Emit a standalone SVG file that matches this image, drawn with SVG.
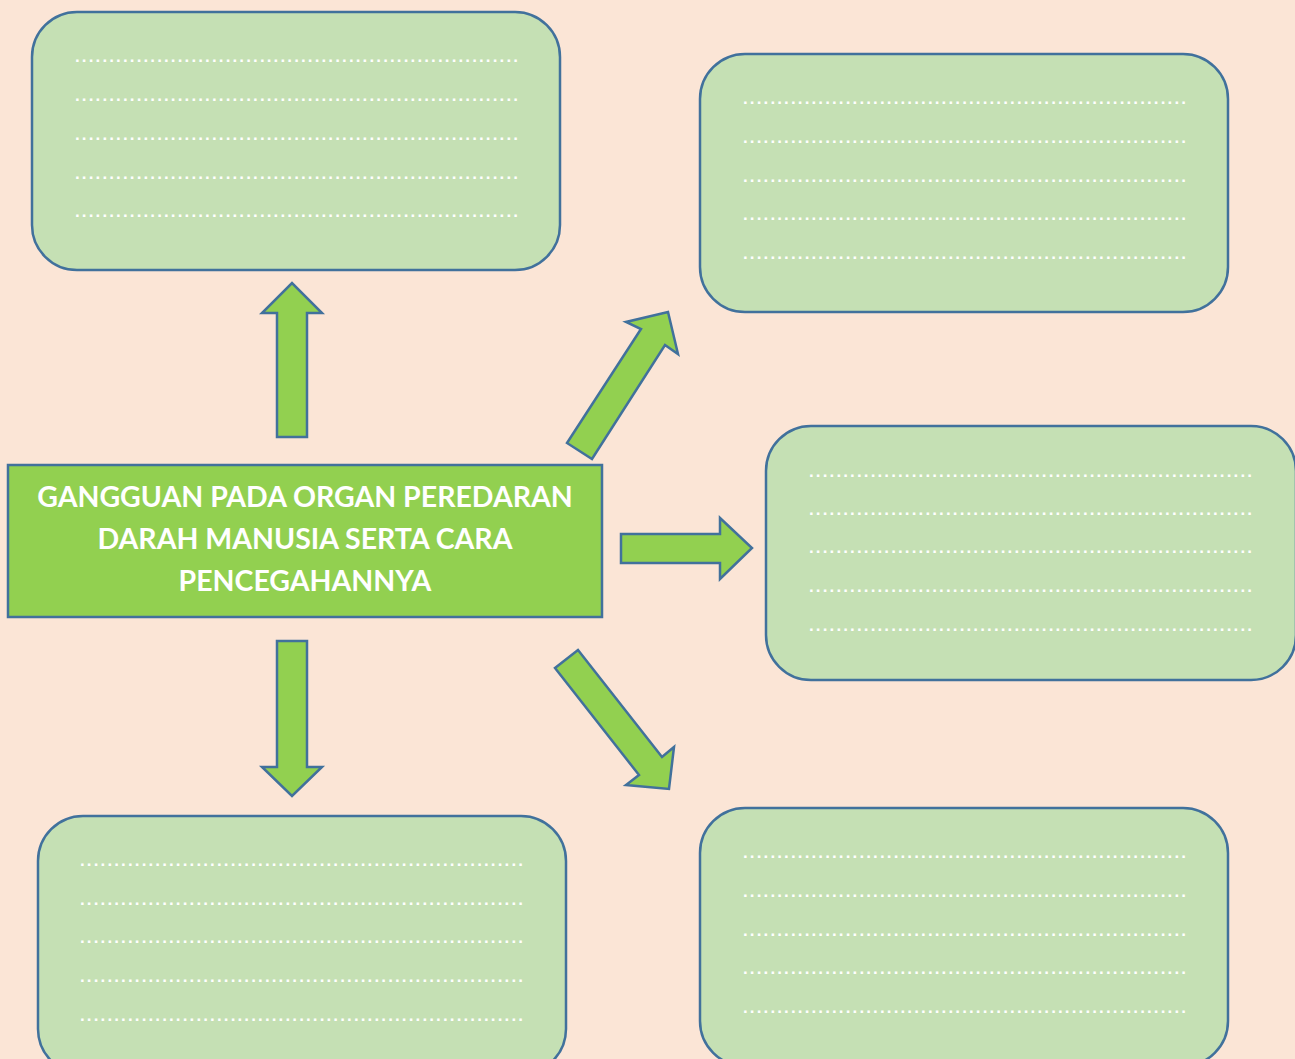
<svg xmlns="http://www.w3.org/2000/svg" width="1295" height="1059" viewBox="0 0 1295 1059">
<style>
.box{fill:#c5e0b4;stroke:#41719c;stroke-width:2.5}
.arr{fill:#92d050;stroke:#41719c;stroke-width:2.5;stroke-linejoin:miter}
.dots{fill:#ffffff;font-family:"Liberation Sans",Arial,sans-serif;font-size:17px;font-weight:bold}
.title{fill:#ffffff;font-family:Lato,"Open Sans",sans-serif;font-weight:bold;font-size:28.5px;text-anchor:middle}
</style>
<rect width="1295" height="1059" fill="#fbe5d6"/>
<g id="connectors">
<polygon class="arr" points="277,437 307,437 307,313 322,313 292,283 262,313 277,313"/>
<polygon class="arr" points="277,641 307,641 307,767 322,767 292,796 262,767 277,767"/>
<polygon class="arr" points="621,534 720,534 720,518 752,548 720,579 720,563 621,563"/>
<polygon class="arr" points="567,443 641,329 626,322 668,312 678,354 665,345 592,459"/>
<polygon class="arr" points="578,650 662,757 674,747 669,789 626,785 639,775 555,668"/>
</g>
<g id="center">
<rect x="8" y="465" width="594" height="152" fill="#92d050" stroke="#41719c" stroke-width="2.5"/>
<text class="title" x="305" y="507">GANGGUAN PADA ORGAN PEREDARAN</text>
<text class="title" x="305" y="549">DARAH MANUSIA SERTA CARA</text>
<text class="title" x="305" y="591">PENCEGAHANNYA</text>
</g>
<g id="box-top-left">
<rect class="box" x="32" y="12" width="528" height="258" rx="45"/>
<g class="dots">
<text x="75" y="62" textLength="443" lengthAdjust="spacing">.................................................................</text>
<text x="75" y="101" textLength="443" lengthAdjust="spacing">.................................................................</text>
<text x="75" y="140" textLength="443" lengthAdjust="spacing">.................................................................</text>
<text x="75" y="179" textLength="443" lengthAdjust="spacing">.................................................................</text>
<text x="75" y="217" textLength="443" lengthAdjust="spacing">.................................................................</text>
</g>
</g>
<g id="box-top-right">
<rect class="box" x="700" y="54" width="528" height="258" rx="45"/>
<g class="dots">
<text x="743" y="104" textLength="443" lengthAdjust="spacing">.................................................................</text>
<text x="743" y="143" textLength="443" lengthAdjust="spacing">.................................................................</text>
<text x="743" y="182" textLength="443" lengthAdjust="spacing">.................................................................</text>
<text x="743" y="220" textLength="443" lengthAdjust="spacing">.................................................................</text>
<text x="743" y="259" textLength="443" lengthAdjust="spacing">.................................................................</text>
</g>
</g>
<g id="box-mid-right">
<rect class="box" x="766" y="426" width="530" height="254" rx="45"/>
<g class="dots">
<text x="809" y="477" textLength="443" lengthAdjust="spacing">.................................................................</text>
<text x="809" y="515" textLength="443" lengthAdjust="spacing">.................................................................</text>
<text x="809" y="553" textLength="443" lengthAdjust="spacing">.................................................................</text>
<text x="809" y="592" textLength="443" lengthAdjust="spacing">.................................................................</text>
<text x="809" y="631" textLength="443" lengthAdjust="spacing">.................................................................</text>
</g>
</g>
<g id="box-bottom-left">
<rect class="box" x="38" y="816" width="528" height="258" rx="45"/>
<g class="dots">
<text x="80" y="866" textLength="443" lengthAdjust="spacing">.................................................................</text>
<text x="80" y="905" textLength="443" lengthAdjust="spacing">.................................................................</text>
<text x="80" y="943" textLength="443" lengthAdjust="spacing">.................................................................</text>
<text x="80" y="982" textLength="443" lengthAdjust="spacing">.................................................................</text>
<text x="80" y="1021" textLength="443" lengthAdjust="spacing">.................................................................</text>
</g>
</g>
<g id="box-bottom-right">
<rect class="box" x="700" y="808" width="528" height="258" rx="45"/>
<g class="dots">
<text x="743" y="858" textLength="443" lengthAdjust="spacing">.................................................................</text>
<text x="743" y="897" textLength="443" lengthAdjust="spacing">.................................................................</text>
<text x="743" y="936" textLength="443" lengthAdjust="spacing">.................................................................</text>
<text x="743" y="974" textLength="443" lengthAdjust="spacing">.................................................................</text>
<text x="743" y="1013" textLength="443" lengthAdjust="spacing">.................................................................</text>
</g>
</g>
</svg>
